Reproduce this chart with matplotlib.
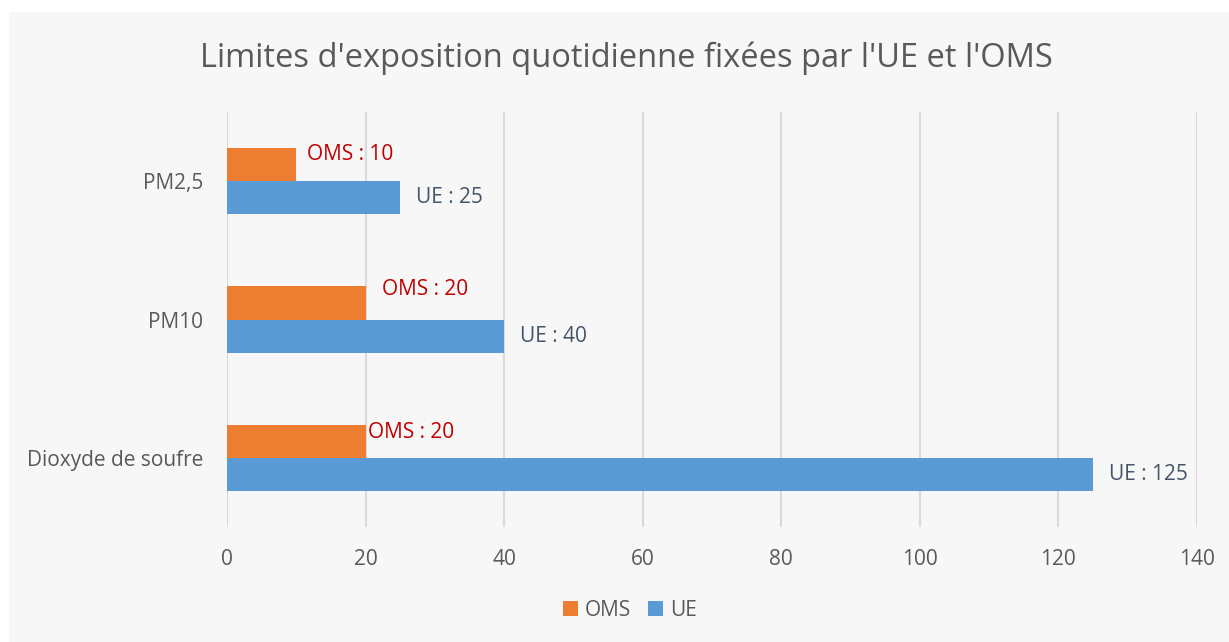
import matplotlib
matplotlib.use('Agg')
import matplotlib.pyplot as plt
import numpy as np

categories = ['Dioxyde de soufre', 'PM10', 'PM2,5']
oms = [20, 20, 10]
ue = [125, 40, 25]
oms_labels = ['OMS : 20', 'OMS : 20', 'OMS : 10']
ue_labels = ['UE : 125', 'UE : 40', 'UE : 25']

# hand-moved label offsets (pixels), like in the original sheet
oms_off = [(2, 9), (16, 13), (11, 10)]
ue_off = [(16, 0), (16, 0), (16, 0)]

plt.rcParams['font.family'] = ['Open Sans', 'DejaVu Sans']
bg = '#F7F7F7'

fig = plt.figure(figsize=(12.29, 6.42), dpi=100, facecolor='white')
fig.patches.append(plt.Rectangle((9/1229, 0), 1 - 9/1229, 1 - 12/642,
                                 transform=fig.transFigure, facecolor=bg,
                                 edgecolor='none', zorder=-10))
ax = fig.add_axes([227/1229, 1 - 527/642, 970/1229, 415/642])
ax.set_facecolor(bg)

y = np.arange(len(categories))
h = 0.24
b1 = ax.barh(y + h/2, oms, height=h, color='#ED7D31', label='OMS', zorder=3)
b2 = ax.barh(y - h/2, ue, height=h, color='#5B9BD5', label='UE', zorder=3)

for i in range(len(categories)):
    ax.annotate(oms_labels[i], (oms[i], y[i] + h/2), xytext=oms_off[i],
                textcoords='offset pixels', va='center', ha='left',
                color='#C00000', fontsize=15)
    ax.annotate(ue_labels[i], (ue[i], y[i] - h/2), xytext=ue_off[i],
                textcoords='offset pixels', va='center', ha='left',
                color='#44546A', fontsize=15)

ax.set_xlim(0, 140)
ax.set_ylim(-0.5, 2.5)
ax.set_xticks(np.arange(0, 141, 20))
ax.set_yticks(y)
ax.set_yticklabels(categories)
ax.grid(axis='x', color='#D9D9D9', linewidth=1.5, zorder=0)
ax.tick_params(axis='both', length=0, labelcolor='#595959', labelsize=15)
ax.tick_params(axis='y', pad=17)
ax.tick_params(axis='x', pad=16)
for s in ax.spines.values():
    s.set_visible(False)

fig.text(626/1229, 1 - 58/642, "Limites d'exposition quotidienne fixées par l'UE et l'OMS",
         ha='center', va='center', fontsize=23.5, color='#595959')

fig.legend(handles=[b1, b2], loc='center', bbox_to_anchor=(630/1229, 1 - 610/642),
           ncol=2, frameon=False, fontsize=15, handlelength=0.7, handleheight=0.7,
           handletextpad=0.35, columnspacing=0.8, labelcolor='#595959')

fig.savefig('out.png', dpi=100, facecolor='white')
